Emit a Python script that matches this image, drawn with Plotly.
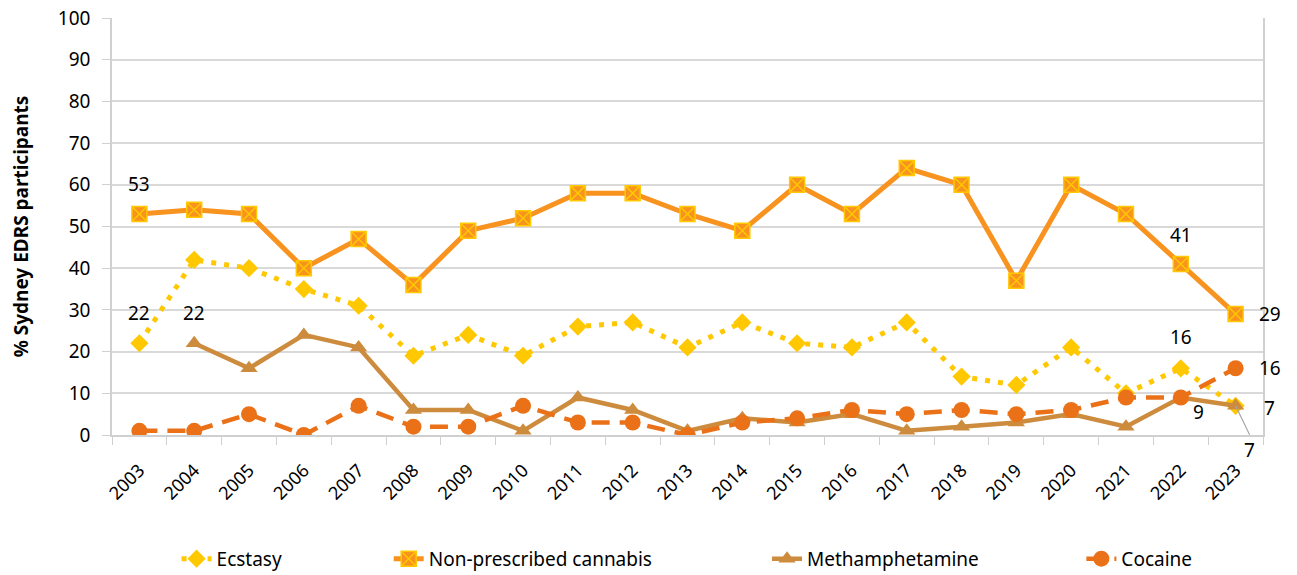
import plotly.graph_objects as go

years = [str(y) for y in range(2003, 2024)]
ecstasy = [22, 42, 40, 35, 31, 19, 24, 19, 26, 27, 21, 27, 22, 21, 27, 14, 12, 21, 10, 16, 7]
cannabis = [53, 54, 53, 40, 47, 36, 49, 52, 58, 58, 53, 49, 60, 53, 64, 60, 37, 60, 53, 41, 29]
meth = [None, 22, 16, 24, 21, 6, 6, 1, 9, 6, 1, 4, 3, 5, 1, 2, 3, 5, 2, 9, 7]
cocaine = [1, 1, 5, 0, 7, 2, 2, 7, 3, 3, 0, 3, 4, 6, 5, 6, 5, 6, 9, 9, 16]

FONT = "Noto Sans"
FS = 19
C_ECS = "#FFC800"
C_CAN = "#F7931E"
C_METH = "#CD8B3E"
C_COC = "#EA7118"

fig = go.Figure()
fig.add_trace(go.Scatter(x=years, y=ecstasy, name="Ecstasy", mode="lines+markers", legend="legend",
                         line=dict(color=C_ECS, width=5, dash="5px,8px"),
                         marker=dict(symbol="diamond", size=14, color=C_ECS)))
fig.add_trace(go.Scatter(x=years, y=cannabis, name="Non-prescribed cannabis", mode="lines+markers",
                         legend="legend2",
                         line=dict(color=C_CAN, width=5),
                         marker=dict(symbol="square-x", size=15, color=C_CAN,
                                     line=dict(color="#FFC800", width=1.5))))
fig.add_trace(go.Scatter(x=years, y=meth, name="Methamphetamine", mode="lines+markers", legend="legend3",
                         line=dict(color=C_METH, width=4.5),
                         marker=dict(symbol="triangle-up", size=15, color=C_METH)))
fig.add_trace(go.Scatter(x=years, y=cocaine, name="Cocaine", mode="lines+markers", legend="legend4",
                         line=dict(color=C_COC, width=4.5, dash="18px,10px"),
                         marker=dict(symbol="circle", size=16, color=C_COC)))

afont = dict(family=FONT, size=FS, color="#000000")
def ann(i, y, text, xs=0, ys=0, **kw):
    fig.add_annotation(x=i, y=y, xref="x", yref="y", text=text, showarrow=False,
                       xshift=xs, yshift=ys, font=afont, **kw)

ann(0, cannabis[0], str(cannabis[0]), ys=30)
ann(0, ecstasy[0], str(ecstasy[0]), ys=30)
ann(1, meth[1], str(meth[1]), ys=30)
ann(19, cannabis[19], str(cannabis[19]), ys=29)
ann(19, ecstasy[19], str(ecstasy[19]), ys=31)
ann(19, meth[19], str(meth[19]), xs=18, ys=-15)
ann(20, cannabis[20], str(cannabis[20]), xs=34)
ann(20, cocaine[20], str(cocaine[20]), xs=34)
ann(20, meth[20], str(meth[20]), xs=34, ys=-2)
fig.add_annotation(x=20, y=ecstasy[20], xref="x", yref="y", text=str(ecstasy[20]), showarrow=True,
                   arrowhead=0, arrowwidth=1.2, arrowcolor="#A6A6A6",
                   ax=14, ay=29, font=afont, yanchor="top")

leg_common = dict(orientation="h", y=-0.297, yanchor="middle", xanchor="left",
                  font=dict(family=FONT, size=FS), bgcolor="rgba(0,0,0,0)")
fig.update_layout(
    width=1289, height=567,
    paper_bgcolor="white", plot_bgcolor="white",
    margin=dict(l=104, r=34, t=10, b=140, autoexpand=False),
    font=dict(family=FONT, size=FS, color="#000000"),
    showlegend=True,
    legend=dict(x=0.0561, **leg_common),
    legend2=dict(x=0.2404, **leg_common),
    legend3=dict(x=0.5691, **leg_common),
    legend4=dict(x=0.8422, **leg_common),
)
fig.update_xaxes(type="category", showgrid=False, showline=True, linecolor="#D0D0D0", linewidth=1.5,
                 ticks="outside", tickson="boundaries", ticklen=8, tickcolor="#D0D0D0",
                 tickangle=-45, tickfont=dict(family=FONT, size=18), mirror=False,
                 ticklabelstandoff=16,
                 range=[-0.5, 20.5], automargin=False)
fig.update_yaxes(range=[0, 100], dtick=10, showgrid=True, gridcolor="#D9D9D9", gridwidth=1.5,
                 showline=True, linecolor="#D0D0D0", linewidth=1.5, mirror=True,
                 ticks="outside", ticklen=8, tickcolor="#D0D0D0", automargin=False,
                 ticklabelstandoff=8, ticklabeloverflow="allow",
                 tickfont=dict(family=FONT, size=FS), zeroline=False,
                 title=dict(text="<b>% Sydney EDRS participants</b>", font=dict(family=FONT, size=FS),
                            standoff=40))

fig.write_html("out.html")
